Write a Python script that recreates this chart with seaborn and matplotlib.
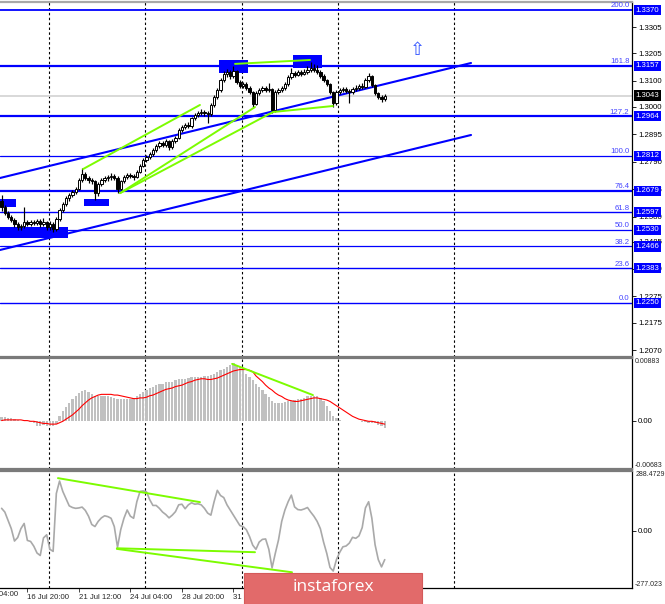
import numpy as np
import matplotlib
matplotlib.use("Agg")
import matplotlib.pyplot as plt
import seaborn as sns
from matplotlib.patches import Rectangle

sns.set_style("white")
plt.rcParams["font.family"] = ["Liberation Sans", "DejaVu Sans"]

# Données (bougies H4)
first_open = 1.2640
close = [
    1.2617, 1.2594, 1.2579, 1.2567, 1.2552, 1.2540, 1.2544, 1.2560, 1.2552, 1.2560,
    1.2556, 1.2563, 1.2552, 1.2560, 1.2540, 1.2552, 1.2533, 1.2571, 1.2605, 1.2628,
    1.2651, 1.2663, 1.2674, 1.2686, 1.2720, 1.2743, 1.2728, 1.2720, 1.2716, 1.2670,
    1.2705, 1.2720, 1.2728, 1.2732, 1.2735, 1.2728, 1.2686, 1.2716, 1.2732, 1.2739,
    1.2735, 1.2732, 1.2751, 1.2774, 1.2797, 1.2808, 1.2820, 1.2835, 1.2850, 1.2862,
    1.2854, 1.2869, 1.2846, 1.2869, 1.2881, 1.2911, 1.2923, 1.2930, 1.2927, 1.2957,
    1.2969, 1.2976, 1.2980, 1.2976, 1.2972, 1.3007, 1.3037, 1.3064, 1.3102, 1.3125,
    1.3133, 1.3118, 1.3137, 1.3095, 1.3079, 1.3087, 1.3072, 1.3057, 1.3011, 1.3053,
    1.3064, 1.3072, 1.3064, 1.3068, 1.2988, 1.3057, 1.3064, 1.3072, 1.3087, 1.3114,
    1.3129, 1.3122, 1.3133, 1.3125, 1.3133, 1.3141, 1.3148, 1.3141, 1.3133, 1.3118,
    1.3102, 1.3087, 1.3057, 1.3014, 1.3057, 1.3064, 1.3068, 1.3060, 1.3057, 1.3068,
    1.3072, 1.3079, 1.3076, 1.3102, 1.3118, 1.3083, 1.3053, 1.3037, 1.3030, 1.3043,
]
high = [
    1.2663, 1.2625, 1.2600, 1.2588, 1.2575, 1.2560, 1.2552, 1.2617, 1.2568, 1.2566,
    1.2568, 1.2570, 1.2570, 1.2575, 1.2565, 1.2562, 1.2558, 1.2578, 1.2612, 1.2635,
    1.2658, 1.2672, 1.2682, 1.2695, 1.2728, 1.2766, 1.2750, 1.2735, 1.2728, 1.2722,
    1.2712, 1.2728, 1.2735, 1.2740, 1.2745, 1.2742, 1.2735, 1.2722, 1.2740, 1.2748,
    1.2746, 1.2742, 1.2758, 1.2780, 1.2803, 1.2816, 1.2828, 1.2842, 1.2858, 1.2870,
    1.2868, 1.2876, 1.2874, 1.2875, 1.2890, 1.2918, 1.2930, 1.2938, 1.2940, 1.2962,
    1.2976, 1.2985, 1.2990, 1.2988, 1.2984, 1.3015, 1.3045, 1.3072, 1.3110, 1.3135,
    1.3145, 1.3140, 1.3156, 1.3142, 1.3102, 1.3096, 1.3094, 1.3080, 1.3062, 1.3060,
    1.3072, 1.3080, 1.3078, 1.3090, 1.3072, 1.3064, 1.3070, 1.3080, 1.3095, 1.3122,
    1.3150, 1.3136, 1.3140, 1.3142, 1.3145, 1.3155, 1.3171, 1.3165, 1.3160, 1.3140,
    1.3125, 1.3108, 1.3092, 1.3062, 1.3064, 1.3072, 1.3076, 1.3074, 1.3068, 1.3076,
    1.3082, 1.3088, 1.3092, 1.3110, 1.3129, 1.3122, 1.3088, 1.3058, 1.3045, 1.3050,
]
low = [
    1.2600, 1.2585, 1.2570, 1.2558, 1.2542, 1.2530, 1.2528, 1.2538, 1.2544, 1.2545,
    1.2548, 1.2550, 1.2540, 1.2545, 1.2530, 1.2528, 1.2520, 1.2525, 1.2565, 1.2598,
    1.2620, 1.2640, 1.2655, 1.2665, 1.2680, 1.2712, 1.2720, 1.2710, 1.2705, 1.2644,
    1.2660, 1.2698, 1.2712, 1.2718, 1.2722, 1.2720, 1.2670, 1.2680, 1.2710, 1.2725,
    1.2726, 1.2722, 1.2728, 1.2745, 1.2768, 1.2790, 1.2800, 1.2812, 1.2828, 1.2842,
    1.2846, 1.2848, 1.2835, 1.2840, 1.2862, 1.2875, 1.2905, 1.2915, 1.2918, 1.2920,
    1.2950, 1.2962, 1.2968, 1.2966, 1.2938, 1.2965, 1.3000, 1.3030, 1.3058, 1.3095,
    1.3115, 1.3108, 1.3110, 1.3088, 1.3070, 1.3072, 1.3065, 1.3048, 1.2995, 1.3005,
    1.3046, 1.3056, 1.3057, 1.3058, 1.2976, 1.2982, 1.3050, 1.3058, 1.3066, 1.3080,
    1.3108, 1.3115, 1.3116, 1.3118, 1.3120, 1.3126, 1.3134, 1.3133, 1.3125, 1.3110,
    1.3095, 1.3078, 1.3050, 1.2999, 1.3008, 1.3050, 1.3058, 1.3052, 1.3014, 1.3050,
    1.3062, 1.3066, 1.3068, 1.3070, 1.3095, 1.3076, 1.3045, 1.3028, 1.3020, 1.3024,
]

# MACD (histogramme + signal)
macd_hist = [
    0.0005, 0.0005, 0.0004, 0.0003, 0.0002, 0.0001, 0.0000, -0.0001, 0.0000, -0.0002,
    -0.0004, -0.0008, -0.0007, -0.0006, -0.0007, -0.0008, -0.0008, -0.0005, 0.0006, 0.0014,
    0.0019, 0.0025, 0.0031, 0.0035, 0.0039, 0.0042, 0.0043, 0.0041, 0.0038, 0.0034,
    0.0035, 0.0035, 0.0034, 0.0034, 0.0033, 0.0032, 0.0030, 0.0030, 0.0031, 0.0030,
    0.0031, 0.0032, 0.0034, 0.0038, 0.0041, 0.0043, 0.0046, 0.0048, 0.0050, 0.0052,
    0.0052, 0.0054, 0.0054, 0.0055, 0.0057, 0.0058, 0.0058, 0.0059, 0.0060, 0.0061,
    0.0061, 0.0062, 0.0062, 0.0063, 0.0063, 0.0064, 0.0066, 0.0069, 0.0071, 0.0073,
    0.0076, 0.0078, 0.0081, 0.0079, 0.0076, 0.0071, 0.0066, 0.0062, 0.0057, 0.0052,
    0.0048, 0.0043, 0.0038, 0.0033, 0.0027, 0.0025, 0.0025, 0.0025, 0.0026, 0.0027,
    0.0028, 0.0029, 0.0030, 0.0031, 0.0032, 0.0034, 0.0035, 0.0035, 0.0034, 0.0032,
    0.0027, 0.0020, 0.0013, 0.0007, 0.0003, 0.0001, 0.0000, -0.0001, -0.0001, -0.0001,
    -0.0001, -0.0001, -0.0002, -0.0002, -0.0003, -0.0003, -0.0004, -0.0006, -0.0008, -0.0011,
]
macd_signal = [
    0.0000, 0.0001, 0.0001, 0.0001, 0.0001, 0.0001, 0.0001, 0.0000, 0.0000, -0.0001,
    -0.0001, -0.0002, -0.0003, -0.0004, -0.0004, -0.0005, -0.0005, -0.0005, -0.0003, -0.0001,
    0.0002, 0.0005, 0.0008, 0.0012, 0.0016, 0.0021, 0.0025, 0.0029, 0.0032, 0.0034,
    0.0036, 0.0037, 0.0037, 0.0037, 0.0037, 0.0036, 0.0036, 0.0035, 0.0034, 0.0033,
    0.0032, 0.0031, 0.0031, 0.0032, 0.0032, 0.0033, 0.0035, 0.0036, 0.0038, 0.0040,
    0.0042, 0.0044, 0.0045, 0.0046, 0.0048, 0.0049, 0.0050, 0.0052, 0.0054, 0.0055,
    0.0057, 0.0058, 0.0059, 0.0059, 0.0058, 0.0058, 0.0059, 0.0060, 0.0062, 0.0064,
    0.0066, 0.0068, 0.0070, 0.0071, 0.0072, 0.0072, 0.0072, 0.0071, 0.0069, 0.0063,
    0.0059, 0.0055, 0.0050, 0.0046, 0.0043, 0.0039, 0.0036, 0.0034, 0.0031, 0.0029,
    0.0028, 0.0027, 0.0027, 0.0028, 0.0029, 0.0030, 0.0031, 0.0032, 0.0032, 0.0031,
    0.0030, 0.0029, 0.0027, 0.0024, 0.0021, 0.0018, 0.0015, 0.0012, 0.0009, 0.0006,
    0.0004, 0.0002, 0.0001, 0.0000, -0.0001, -0.0001, -0.0002, -0.0003, -0.0004, -0.0005,
]

# CCI
cci = [
    108, 90, 50, 10, -50, -33, 10, 35, -47, -52,
    -75, -108, -120, -35, -20, -90, -100, 180, 240, 190,
    155, 120, 112, 108, 110, 114, 98, 70, 30, 20,
    45, 62, 72, 68, 60, 20, -80, 5, 60, 100,
    70, 60, 140, 190, 192, 188, 150, 122, 122, 108,
    90, 78, 62, 75, 92, 125, 128, 106, 125, 135,
    128, 130, 125, 108, 85, 75, 140, 195, 170, 160,
    125, 100, 75, 50, 25, 20, 5, -28, -70, -90,
    -55, -42, -40, -90, -180, -110, -45, 45, 100, 140,
    172, 115, 102, 100, 105, 112, 90, 70, 45, 10,
    -55, -110, -178, -195, -140, -105, -78, -74, -60, -32,
    -37, -25, 15, 110, 140, 60, -68, -140, -175, -140,
]

# Niveaux de Fibonacci
fib_pct = ["200.0", "161.8", "127.2", "100.0", "76.4", "61.8", "50.0", "38.2", "23.6", "0.0"]
fib_price = [1.3370, 1.3157, 1.2964, 1.2812, 1.2679, 1.2597, 1.2530, 1.2466, 1.2383, 1.2250]
last_price = 1.3043
price_ticks = [1.3305, 1.3205, 1.3100, 1.3000, 1.2895, 1.2790, 1.2685, 1.2580,
               1.2485, 1.2380, 1.2275, 1.2175, 1.2070]

# Axe du temps (index de bougie)
date_bars = [-8, 8, 24, 40, 56, 72, 88, 104]
date_labels = ["14 Jul 04:00", "16 Jul 20:00", "21 Jul 12:00", "24 Jul 04:00",
               "28 Jul 20:00", "31 Jul 12:00", "5 Aug 04:00", "7 Aug 20:00"]
week_sep = [14.7, 44.6, 74.7, 104.5, 140.5]

# Tracés de l'analyste (index, prix)
channel_upper = [(-0.5, 1.27278), (145.8, 1.31674)]
channel_lower = [(-0.5, 1.24526), (145.8, 1.28922)]
green_price = [
    [(25.3, 1.2762), (61.6, 1.3007)],
    [(36.8, 1.2670), (78.7, 1.2999)],
    [(36.8, 1.2670), (84.3, 1.2980), (102.9, 1.3003)],
    [(72.5, 1.3164), (95.8, 1.3179)],
]
green_macd = [[(71.6, 0.0080), (96.7, 0.0036)]]
green_cci = [
    [(17.5, 254), (61.6, 138)],
    [(35.8, -85), (78.7, -104)],
    [(35.8, -88), (90.2, -201)],
]
zones = [  # (bar0, bar1, prix bas, prix haut)
    (-0.5, 4.5, 1.2617, 1.2648),
    (-0.5, 20.6, 1.2498, 1.2541),
    (25.6, 33.4, 1.2621, 1.2648),
    (67.5, 76.5, 1.3129, 1.3179),
    (90.5, 99.5, 1.3148, 1.3198),
]
arrow_pos = (129.3, 1.3217)

# ------------------------------------------------------------------
W, H = 665, 604
fig = plt.figure(figsize=(W / 100, H / 100), dpi=100)
fw = 632 / W
ax1 = fig.add_axes([0, 1 - 357 / H, fw, 355 / H])
ax2 = fig.add_axes([0, 1 - 469 / H, fw, 111 / H])
ax3 = fig.add_axes([0, 1 - 588 / H, fw, 117 / H])

xlim = (-0.5, 195.8)
fs = 5.6
blue = "#0000ff"
green = "#7cfc00"

for ax in (ax1, ax2, ax3):
    ax.set_xlim(*xlim)
    ax.set_facecolor("white")
    ax.spines["left"].set_visible(False)
    ax.spines["right"].set_color("black")
    ax.spines["right"].set_linewidth(0.9)
    for s in ("top", "bottom"):
        ax.spines[s].set_color("#7a7a7a")
        ax.spines[s].set_linewidth(1.6)
    ax.yaxis.tick_right()
    ax.tick_params(axis="y", direction="out", length=3, width=0.6, pad=1.5,
                   labelsize=fs, colors="black", right=True, left=False)
    ax.tick_params(axis="x", bottom=False, labelbottom=False)
    for b in week_sep:
        ax.axvline(b, color="black", ls=(0, (2.2, 2.2)), lw=0.8, zorder=1)
ax1.spines["top"].set_color("#a8a8a8")
ax3.spines["bottom"].set_color("black")
ax3.spines["bottom"].set_linewidth(0.9)

# --- panneau prix ---
n = len(close)
bars = np.arange(n)
c = np.array(close)
o = np.array([first_open] + close[:-1])
up = c >= o
ax1.vlines(bars, low, high, color="black", lw=0.85, zorder=4)
ax1.bar(bars[up], np.maximum(c[up] - o[up], 0.00004), bottom=o[up], width=0.72,
        color="white", edgecolor="black", lw=0.7, zorder=5)
ax1.bar(bars[~up], np.maximum(o[~up] - c[~up], 0.00004), bottom=c[~up], width=0.72,
        color="black", edgecolor="black", lw=0.7, zorder=5)

ax1.set_ylim(1.20435, 1.34006)
ax1.set_yticks(price_ticks)
ax1.set_yticklabels([f"{p:.4f}" for p in price_ticks])

fib_lw = [1.3, 1.6, 1.6, 0.9, 1.6, 1.0, 0.9, 0.9, 1.0, 1.0]
ytr = ax1.get_yaxis_transform()
for pct, p, lw in zip(fib_pct, fib_price, fib_lw):
    ax1.axhline(p, color=blue, lw=lw, zorder=2)
    ax1.text(0.996, p + 0.0002, pct, transform=ytr, ha="right", va="bottom",
             color="#4444ff", fontsize=fs, zorder=6)
    ax1.text(1.0055, p, f"{p:.4f}", transform=ytr, ha="left", va="center",
             color="white", fontsize=fs, clip_on=False, zorder=8,
             bbox=dict(boxstyle="square,pad=0.22", fc=blue, ec="none"))

ax1.axhline(last_price, color="#d6d6d6", lw=1.3, zorder=1.5)
ax1.text(1.0055, last_price, f"{last_price:.4f}", transform=ytr, ha="left",
         va="center", color="white", fontsize=fs, clip_on=False, zorder=8,
         bbox=dict(boxstyle="square,pad=0.22", fc="black", ec="none"))

for line in (channel_upper, channel_lower):
    xs, ys = zip(*line)
    ax1.plot(xs, ys, color=blue, lw=1.5, zorder=3)
for line in green_price:
    xs, ys = zip(*line)
    ax1.plot(xs, ys, color=green, lw=1.4, zorder=6)
for b0, b1, p0, p1 in zones:
    ax1.add_patch(Rectangle((b0, p0), b1 - b0, p1 - p0, color=blue, lw=0, zorder=3.5))
ax1.text(*arrow_pos, "\u21e7", color="#3355ff", fontsize=13, ha="center",
         va="center", family=["DejaVu Sans"], zorder=6)

# --- MACD ---
ax2.set_ylim(-0.00683, 0.00883)
ax2.bar(bars, macd_hist, width=0.72, color="#c0c0c0", lw=0, zorder=2)
sns.lineplot(x=bars, y=macd_signal, ax=ax2, color="red", lw=0.8, zorder=3)
for line in green_macd:
    xs, ys = zip(*line)
    ax2.plot(xs, ys, color=green, lw=1.4, zorder=4)
ax2.set_yticks([0.0])
ax2.set_yticklabels(["0.00"])
ax2.set_ylabel("")
ytr2 = ax2.get_yaxis_transform()
ax2.text(1.005, 0.00883, "0.00883", transform=ytr2, ha="left", va="top",
         fontsize=fs - 0.6, clip_on=False)
ax2.text(1.005, -0.00683, "-0.00683", transform=ytr2, ha="left", va="bottom",
         fontsize=fs - 0.6, clip_on=False)

# --- CCI ---
ax3.set_ylim(-277.023, 288.4729)
sns.lineplot(x=bars, y=cci, ax=ax3, color="#a9a9a9", lw=1.2, zorder=3)
for line in green_cci:
    xs, ys = zip(*line)
    ax3.plot(xs, ys, color=green, lw=1.4, zorder=4)
ax3.set_yticks([0.0])
ax3.set_yticklabels(["0.00"])
ax3.set_ylabel("")
ytr3 = ax3.get_yaxis_transform()
ax3.text(1.005, 288.4729, "288.4729", transform=ytr3, ha="left", va="top",
         fontsize=fs - 0.6, clip_on=False)
ax3.text(1.005, -277.023, "-277.023", transform=ytr3, ha="left", va="bottom",
         fontsize=fs - 0.6, clip_on=False)

# étiquettes de dates (alignées à gauche du repère, comme MT4)
in_view = [(b, t) for b, t in zip(date_bars, date_labels) if b >= xlim[0]]
ax3.set_xticks([b for b, _ in in_view])
ax3.set_xticklabels([t for _, t in in_view])
ax3.tick_params(axis="x", bottom=True, labelbottom=True, direction="out",
                length=3, width=0.6, pad=1.5, labelsize=fs)
for lbl in ax3.get_xticklabels():
    lbl.set_ha("left")
xtr = ax3.get_xaxis_transform()
for b, t in zip(date_bars, date_labels):
    if b < xlim[0]:
        ax3.text(b, -0.027, t, transform=xtr, ha="left", va="top",
                 fontsize=fs, clip_on=False)
ax3.set_xlim(*xlim)

# filigrane
fig.add_artist(Rectangle((244 / W, 0), 178 / W, 31 / H, transform=fig.transFigure,
                         fc="#e26a6a", ec="#d45a5a", lw=0.8, zorder=20))
fig.text(333 / W, 1 - 587 / H, "instaforex", color="white", ha="center",
         va="center", fontsize=12.5, family=["Open Sans", "DejaVu Sans"], zorder=21)

fig.savefig("out.png", dpi=100)
